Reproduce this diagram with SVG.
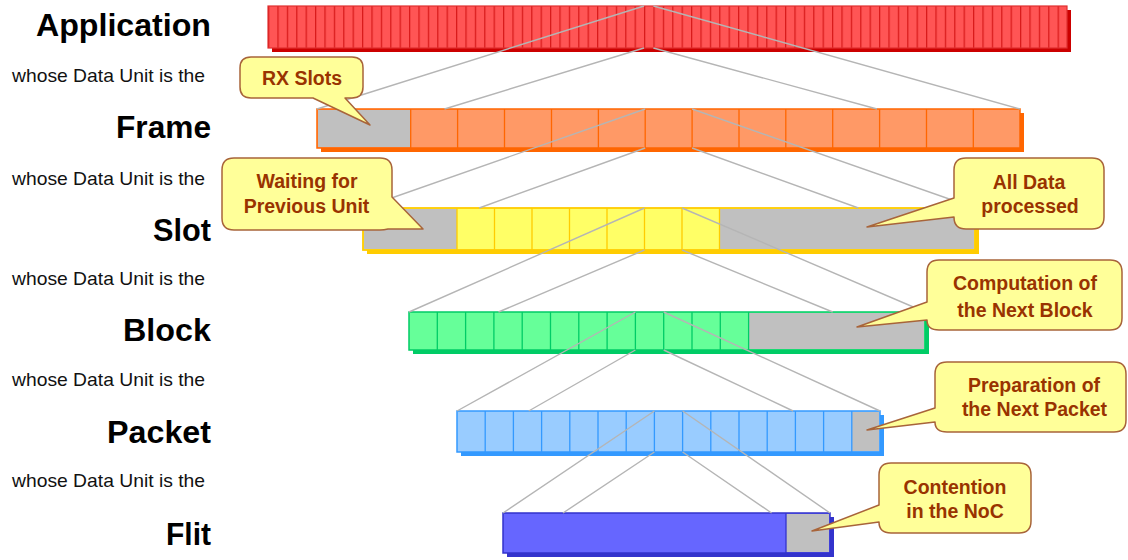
<svg xmlns="http://www.w3.org/2000/svg" width="1128" height="560" viewBox="0 0 1128 560">
<style>
.lbl{font-family:"Liberation Sans",Arial,sans-serif;font-weight:bold;font-size:31px;fill:#000}
.sub{font-family:"Liberation Sans",Arial,sans-serif;font-size:19px;fill:#111}
.co{fill:#ffff99;stroke:#a8643a;stroke-width:1.5;stroke-linejoin:round}
.ct{font-family:"Liberation Sans",Arial,sans-serif;font-weight:bold;font-size:19.5px;fill:#993300;text-anchor:middle}
.gray{fill:#c0c0c0}
.conn{stroke:#b5b5b5;stroke-width:1.4;fill:none}
</style>
<defs>
<pattern id="appcells" patternUnits="userSpaceOnUse" x="268" y="6" width="9.4" height="42">
<rect x="0" y="0" width="9.4" height="42" fill="#ff5555"/>
<line x1="0.6" y1="0" x2="0.6" y2="42" stroke="#d81a1a" stroke-width="1.3"/>
</pattern>
</defs>
<rect width="1128" height="560" fill="#fff"/>

<g id="label-application"><text class="lbl" x="36" y="36" textLength="175" lengthAdjust="spacingAndGlyphs">Application</text></g>
<g id="sub1"><text class="sub" x="12" y="82" textLength="193" lengthAdjust="spacingAndGlyphs">whose Data Unit is the</text></g>
<g id="label-frame"><text class="lbl" x="116" y="138" textLength="95" lengthAdjust="spacingAndGlyphs">Frame</text></g>
<g id="sub2"><text class="sub" x="12" y="185" textLength="193" lengthAdjust="spacingAndGlyphs">whose Data Unit is the</text></g>
<g id="label-slot"><text class="lbl" x="153" y="241" textLength="58" lengthAdjust="spacingAndGlyphs">Slot</text></g>
<g id="sub3"><text class="sub" x="12" y="285" textLength="193" lengthAdjust="spacingAndGlyphs">whose Data Unit is the</text></g>
<g id="label-block"><text class="lbl" x="123" y="341" textLength="88" lengthAdjust="spacingAndGlyphs">Block</text></g>
<g id="sub4"><text class="sub" x="12" y="386" textLength="193" lengthAdjust="spacingAndGlyphs">whose Data Unit is the</text></g>
<g id="label-packet"><text class="lbl" x="107" y="443" textLength="104" lengthAdjust="spacingAndGlyphs">Packet</text></g>
<g id="sub5"><text class="sub" x="12" y="487" textLength="193" lengthAdjust="spacingAndGlyphs">whose Data Unit is the</text></g>
<g id="label-flit"><text class="lbl" x="166" y="545" textLength="45" lengthAdjust="spacingAndGlyphs">Flit</text></g>

<g id="bar-application">
<rect x="272" y="10" width="799" height="42" fill="#cc0000"/>
<rect x="268" y="6" width="799" height="42" fill="url(#appcells)" stroke="#e03030" stroke-width="1.2"/>
</g>

<g id="bar-frame">
<rect x="321" y="113" width="703" height="39" fill="#ff6600"/>
<rect x="317" y="109" width="703" height="39" fill="#ff9966" stroke="#ff6600" stroke-width="1.5"/>
<rect class="gray" x="318" y="110" width="92.7" height="37"/>
<path d="M410.7,109V148M457.6,109V148M504.5,109V148M551.5,109V148M598.4,109V148M645.2,109V148M692.1,109V148M739,109V148M785.8,109V148M832.7,109V148M879.6,109V148M926.5,109V148M973.3,109V148" stroke="#ff6600" stroke-width="1.3"/>
</g>

<g id="bar-slot">
<rect x="367" y="212" width="612" height="42" fill="#ffcc00"/>
<rect x="363" y="208" width="612" height="42" fill="#ffff66" stroke="#ffcc00" stroke-width="1.8"/>
<rect class="gray" x="364" y="209" width="93" height="40"/>
<rect class="gray" x="719.5" y="209" width="254.5" height="40"/>
<path d="M457,208V250M494.5,208V250M532,208V250M569.5,208V250M607,208V250M644.5,208V250M682,208V250M719.5,208V250" stroke="#ffcc00" stroke-width="1.3"/>
</g>

<g id="bar-block">
<rect x="413" y="316" width="516" height="38" fill="#00cc66"/>
<rect x="409" y="312" width="516" height="38" fill="#66ff99" stroke="#00cc66" stroke-width="1.5"/>
<rect class="gray" x="748.6" y="313" width="175.4" height="36"/>
<path d="M437.3,312V350M465.6,312V350M493.9,312V350M522.2,312V350M550.5,312V350M578.8,312V350M607.1,312V350M635.4,312V350M663.7,312V350M692,312V350M720.3,312V350M748.6,312V350" stroke="#00cc66" stroke-width="1.3"/>
</g>

<g id="bar-packet">
<rect x="461" y="415" width="423" height="41" fill="#3399ff"/>
<rect x="457" y="411" width="423" height="41" fill="#99ccff" stroke="#3399ff" stroke-width="1.5"/>
<rect class="gray" x="851.8" y="412" width="27.2" height="39"/>
<path d="M485.2,411V452M513.4,411V452M541.6,411V452M569.8,411V452M598,411V452M626.2,411V452M654.4,411V452M682.6,411V452M710.8,411V452M739,411V452M767.2,411V452M795.4,411V452M823.6,411V452M851.8,411V452" stroke="#3399ff" stroke-width="1.3"/>
</g>

<g id="bar-flit">
<rect x="507" y="517" width="327" height="40" fill="#3333cc"/>
<rect x="503" y="513" width="327" height="40" fill="#6666ff" stroke="#3333cc" stroke-width="1.5"/>
<rect class="gray" x="786" y="514" width="43" height="38"/>
<path d="M786,513V553" stroke="#3333cc" stroke-width="1.3"/>
</g>

<g id="connectors" class="conn">
<path d="M644,6L317,109M653.4,6L1020,109M644,48L444.5,109M653.4,48L877,109"/>
<path d="M645.2,109L363,208M692.1,109L975,208M645.2,148L479.2,208M692.1,148L858.4,208"/>
<path d="M644.5,208L409,312M682,208L925,312M644.5,250L498.5,312M682,250L832.7,312"/>
<path d="M635.4,312L457,411M663.7,312L880,411M635.4,350L528.7,411M663.7,350L793.1,411"/>
<path d="M654.4,411L503,513M682.6,411L830,513M654.4,452L563,513M682.6,452L771.6,513"/>
</g>

<g id="callout-rx">
<path class="co" d="M251,57H352Q363,57 363,68V87Q363,98 352,98H345L370,125L313,98H251Q240,98 240,87V68Q240,57 251,57Z"/>
<text class="ct" x="302" y="85">RX Slots</text>
</g>
<g id="callout-waiting">
<path class="co" d="M234,158H380Q392,158 392,170V197L423,229L388,229Q384,230 380,230H234Q222,230 222,218V170Q222,158 234,158Z"/>
<text class="ct" x="307" y="188">Waiting for</text>
<text class="ct" x="306.5" y="213">Previous Unit</text>
</g>
<g id="callout-alldata">
<path class="co" d="M966,158H1092Q1104,158 1104,170V217Q1104,229 1092,229H966Q954,229 954,217L867,227L954,198V170Q954,158 966,158Z"/>
<text class="ct" x="1029" y="189">All Data</text>
<text class="ct" x="1030" y="213">processed</text>
</g>
<g id="callout-computation">
<path class="co" d="M939,260H1110Q1122,260 1122,272V318Q1122,330 1110,330H939Q927,330 927,320L857,327L927,302V272Q927,260 939,260Z"/>
<text class="ct" x="1025" y="290">Computation of</text>
<text class="ct" x="1025" y="317">the Next Block</text>
</g>
<g id="callout-preparation">
<path class="co" d="M947,362H1114Q1126,362 1126,374V420Q1126,432 1114,432H947Q935,432 935,422L867,430L935,408V374Q935,362 947,362Z"/>
<text class="ct" x="1034" y="392">Preparation of</text>
<text class="ct" x="1034.5" y="416">the Next Packet</text>
</g>
<g id="callout-contention">
<path class="co" d="M891,463H1019Q1031,463 1031,475V521Q1031,533 1019,533H891Q879,533 879,522L812,531L879,505V475Q879,463 891,463Z"/>
<text class="ct" x="955" y="494">Contention</text>
<text class="ct" x="955" y="518">in the NoC</text>
</g>
</svg>
